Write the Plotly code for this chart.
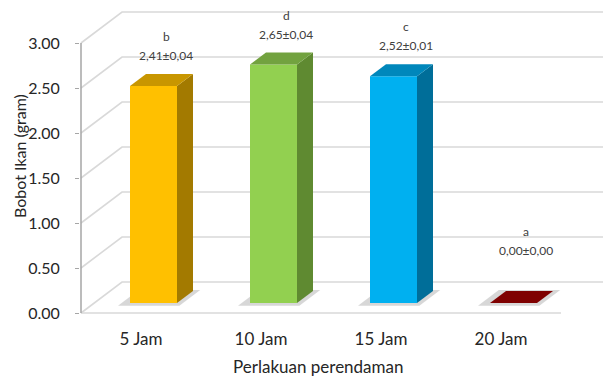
import plotly.graph_objects as go

# ---------------- data ----------------
categories = ["5 Jam", "10 Jam", "15 Jam", "20 Jam"]
values = [2.41, 2.65, 2.52, 0.00]
errors = [0.04, 0.04, 0.01, 0.00]
letters = ["b", "d", "c", "a"]
front_colors = ["#FFC000", "#92D050", "#00B0F0", "#7F0000"]
top_colors = ["#C89600", "#72A23F", "#0087BB", "#7F0000"]
side_colors = ["#A37A00", "#5F8A31", "#006E99", "#5A0000"]
y_ticks = [0.0, 0.5, 1.0, 1.5, 2.0, 2.5, 3.0]
y_tick_text = ["0.00", "0.50", "1.00", "1.50", "2.00", "2.50", "3.00"]

# ---------------- layout geometry ----------------
W, H = 613, 378
L, R, T, B = 80, 5, 5, 55
PX_PER_U = 120.0     # pixels per category step
PX_PER_Y = 90.0      # pixels per value unit (front plane)
X0_PX = 141.0        # pixel x of first category (front plane)
Y0_PX = 313.0        # pixel y of value 0 (front plane)
x_range = [(L - X0_PX) / PX_PER_U, (W - R - X0_PX) / PX_PER_U]
y_range = [(Y0_PX - (H - B)) / PX_PER_Y, (Y0_PX - T) / PX_PER_Y]

# 3D look (in data units)
WALL_DX, WALL_DY = 41 / PX_PER_U, 31 / PX_PER_Y     # depth of the chart box
BAR_LEFT, BAR_W = -11 / PX_PER_U, 47 / PX_PER_U     # bar front face
BAR_BASE = 10 / PX_PER_Y                            # bar sits mid-depth
BAR_DX, BAR_DY = 16 / PX_PER_U, 12 / PX_PER_Y       # bar depth
AXIS_X = -0.5
WALL_RIGHT = (603 - X0_PX) / PX_PER_U
FLOOR_RIGHT = 3.5

fig = go.Figure()

# gridlines (front diagonal + back wall)
gx, gy = [], []
for t in y_ticks:
    gx += [AXIS_X, AXIS_X + WALL_DX, WALL_RIGHT, None]
    gy += [t, t + WALL_DY, t + WALL_DY, None]
gx += [AXIS_X, FLOOR_RIGHT, None]
gy += [0, 0, None]
fig.add_trace(go.Scatter(x=gx, y=gy, mode="lines",
                         line=dict(color="#D9D9D9", width=1.6),
                         hoverinfo="skip", showlegend=False))

# vertical axis line
fig.add_trace(go.Scatter(x=[AXIS_X, AXIS_X], y=[0, y_ticks[-1]], mode="lines",
                         line=dict(color="#A6A6A6", width=1.5),
                         hoverinfo="skip", showlegend=False))


def poly(xs, ys, color):
    fig.add_trace(go.Scatter(x=xs + [xs[0]], y=ys + [ys[0]], mode="lines",
                             fill="toself", fillcolor=color,
                             line=dict(color=color, width=0),
                             hoverinfo="skip", showlegend=False))


for i, v in enumerate(values):
    xl = i + BAR_LEFT
    xr = xl + BAR_W
    yb = BAR_BASE
    yt = BAR_BASE + v
    # soft shadow on the floor
    poly([xl - 0.10, xr + 0.02, xr + BAR_DX + 0.06, xl + BAR_DX - 0.06],
         [yb - 0.03, yb - 0.03, yb + BAR_DY + 0.01, yb + BAR_DY + 0.01],
         "rgba(140,140,140,0.35)")
    if v > 0:
        # front face
        poly([xl, xr, xr, xl], [yb, yb, yt, yt], front_colors[i])
        # side face
        poly([xr, xr + BAR_DX, xr + BAR_DX, xr],
             [yb, yb + BAR_DY, yt + BAR_DY, yt], side_colors[i])
    # top face
    poly([xl, xr, xr + BAR_DX, xl + BAR_DX],
         [yt, yt, yt + BAR_DY, yt + BAR_DY], top_colors[i])

# data labels
annotations = []
for i, v in enumerate(values):
    ly = max(v + 0.45, 0.69)
    lx = i + 25 / PX_PER_U
    txt = f"{v:.2f}".replace(".", ",") + "±" + f"{errors[i]:.2f}".replace(".", ",")
    annotations.append(dict(x=lx, y=ly, text=txt, showarrow=False,
                            font=dict(family="Lato", size=12, color="#404040")))
    annotations.append(dict(x=lx, y=ly, yshift=19, text=letters[i], showarrow=False,
                            font=dict(family="Lato", size=12, color="#404040")))

# axis titles
annotations.append(dict(xref="paper", yref="paper", x=(19 - L) / (W - L - R),
                        y=((H - B) - 156) / (H - B - T), text="Bobot Ikan (gram)",
                        textangle=-90, showarrow=False,
                        xanchor="center", yanchor="middle",
                        font=dict(family="Lato", size=16, color="#262626")))
annotations.append(dict(xref="paper", yref="paper", x=(318 - L) / (W - L - R),
                        y=((H - B) - 366) / (H - B - T), text="Perlakuan perendaman",
                        showarrow=False, xanchor="center", yanchor="middle",
                        font=dict(family="Lato", size=17, color="#262626")))

fig.update_layout(
    width=W, height=H,
    margin=dict(l=L, r=R, t=T, b=B, autoexpand=False),
    paper_bgcolor="white", plot_bgcolor="white",
    showlegend=False,
    annotations=annotations,
    xaxis=dict(range=x_range, tickvals=list(range(len(categories))),
               ticktext=categories, showgrid=False, zeroline=False,
               showline=False, ticks="", fixedrange=True,
               ticklabelstandoff=4,
               tickfont=dict(family="Lato", size=17, color="#262626")),
    yaxis=dict(range=y_range, tickvals=y_ticks, ticktext=y_tick_text,
               showgrid=False, zeroline=False, showline=False,
               ticks="outside", ticklen=4, tickcolor="#A6A6A6",
               ticklabelstandoff=12, fixedrange=True,
               tickfont=dict(family="Lato", size=16, color="#262626")),
)

fig.write_html("out.html")
